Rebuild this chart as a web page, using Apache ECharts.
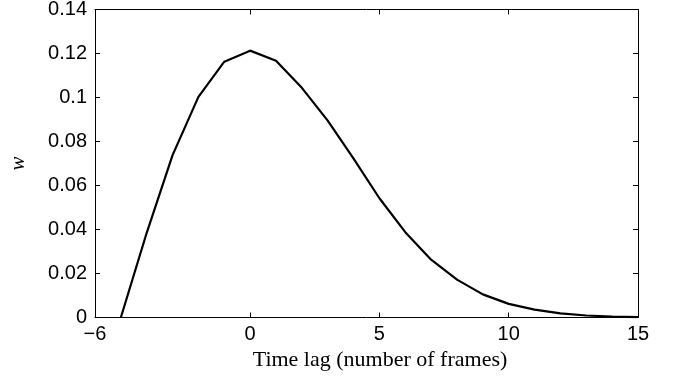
<!DOCTYPE html>
<html>
<head>
<meta charset="utf-8">
<script src="https://cdn.jsdelivr.net/npm/echarts@6/dist/echarts.min.js"></script>
<style>html,body{margin:0;padding:0;background:#fff}#c{width:676px;height:380px}</style>
</head>
<body>
<div id="c"></div>
<script>
var lags = [-5,-4,-3,-2,-1,0,1,2,3,4,5,6,7,8,9,10,11,12,13,14,15];
var weights = [0,0.0385,0.0738,0.1003,0.1163,0.1213,0.1167,0.1044,0.0895,0.0722,0.0542,0.0388,0.0263,0.0172,0.0105,0.0062,0.0036,0.0019,0.0009,0.0004,0.0002];
var xTicks = [-6,0,5,10,15];
var yTicks = [0,0.02,0.04,0.06,0.08,0.1,0.12,0.14];
var xTitle = 'Time lag (number of frames)';
var yTitle = 'w';

var chart = echarts.init(document.getElementById('c'), null, {renderer:'canvas'});
var lineStyle = {color:'#000', width:1};
var labelFont = {color:'#000', fontFamily:'Liberation Sans, Arial, sans-serif', fontSize:20};
var pts = lags.map(function(x,i){return [x, weights[i]];});
chart.setOption({
  animation:false,
  grid:{left:95, right:38, top:9.5, bottom:62.5, containLabel:false, outerBoundsMode:'none'},
  xAxis:[{
    type:'value', min:-6, max:15, position:'bottom',
    axisLine:{show:true, onZero:false, lineStyle:lineStyle},
    axisTick:{show:true, inside:true, length:5, customValues:xTicks, lineStyle:lineStyle},
    axisLabel:Object.assign({show:true, customValues:xTicks, margin:7, formatter:function(v){return v<0?'\u2212'+Math.abs(v):String(v);}}, labelFont),
    splitLine:{show:false},
    name:xTitle, nameLocation:'middle', nameGap:27,
    nameTextStyle:{color:'#000', fontFamily:'Liberation Serif, Times New Roman, serif', fontSize:22, padding:[0,0,0,27]}
  },{
    type:'value', min:-6, max:15, position:'top',
    axisLine:{show:true, onZero:false, lineStyle:lineStyle},
    axisTick:{show:true, inside:true, length:5, customValues:xTicks, lineStyle:lineStyle},
    axisLabel:{show:false}, splitLine:{show:false}
  }],
  yAxis:[{
    type:'value', min:0, max:0.14, position:'left',
    axisLine:{show:true, onZero:false, lineStyle:lineStyle},
    axisTick:{show:true, inside:true, length:5, customValues:yTicks, lineStyle:lineStyle},
    axisLabel:Object.assign({show:true, customValues:yTicks, margin:8, formatter:function(v){return String(+v.toFixed(2));}}, labelFont),
    splitLine:{show:false},
    name:yTitle, nameLocation:'middle', nameGap:66, nameRotate:90,
    nameTextStyle:{color:'#000', fontFamily:'Liberation Serif, Times New Roman, serif', fontStyle:'italic', fontSize:21, padding:[0,0,0,0]}
  },{
    type:'value', min:0, max:0.14, position:'right',
    axisLine:{show:true, onZero:false, lineStyle:lineStyle},
    axisTick:{show:true, inside:true, length:5, customValues:yTicks, lineStyle:lineStyle},
    axisLabel:{show:false}, splitLine:{show:false}
  }],
  series:[{
    type:'line', data:pts, xAxisIndex:0, yAxisIndex:0,
    showSymbol:false, symbol:'none', smooth:false,
    lineStyle:{color:'#000', width:2.2}
  }]
});
</script>
</body>
</html>
